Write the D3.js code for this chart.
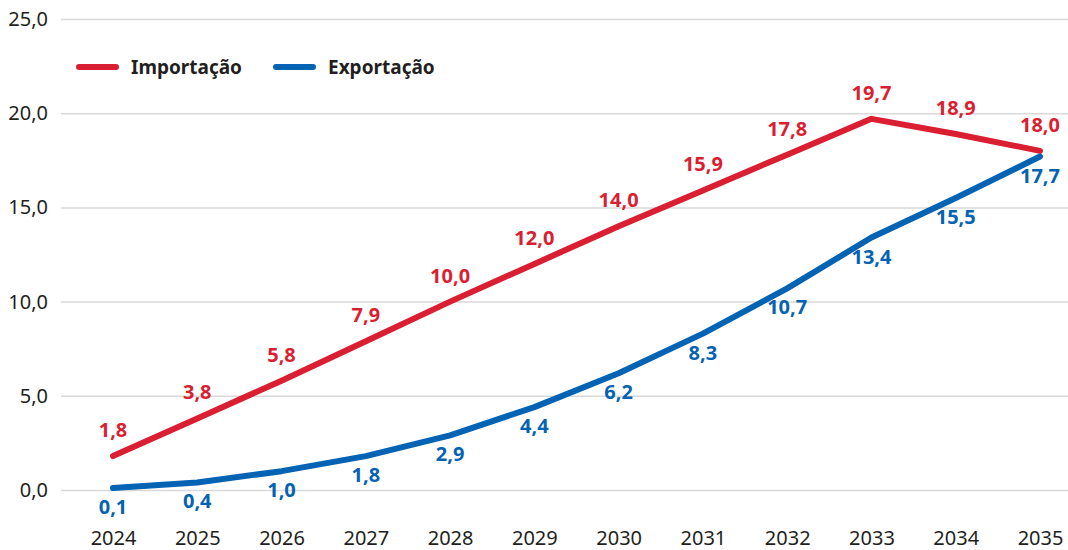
<!DOCTYPE html>
<html lang="pt">
  <head>
    <meta charset="UTF-8" />
    <title>Importação e Exportação</title>
    <script src="https://cdn.jsdelivr.net/npm/d3@7/dist/d3.min.js"></script>
    <style>
      body { margin: 0; background: #fff; }
      text { font-family: 'Noto Sans', sans-serif; }
    </style>
  </head>
  <body>
    <div id='app'></div>

    <script>
  // data
  const years = ['2024', '2025', '2026', '2027', '2028', '2029', '2030', '2031', '2032', '2033', '2034', '2035']
  const importacao = [1.8, 3.8, 5.8, 7.9, 10.0, 12.0, 14.0, 15.9, 17.8, 19.7, 18.9, 18.0]
  const exportacao = [0.1, 0.4, 1.0, 1.8, 2.9, 4.4, 6.2, 8.3, 10.7, 13.4, 15.5, 17.7]
  const yTicks = [0, 5, 10, 15, 20, 25]

  const width = 1068
  const height = 550
  const red = '#da1f33'
  const blue = '#0563b3'

  const fmt = v => d3.format('.1f')(v).replace('.', ',')

  const svg = d3.select('#app').append('svg')
    .attr('width', width)
    .attr('height', height)

  const x = d3.scalePoint().domain(years).range([113, 1040])
  const y = d3.scaleLinear().domain([0, 25]).range([490, 19])

  // gridlines + y labels
  const yAxis = svg.append('g')
    .attr('transform', 'translate(61,0)')
    .call(d3.axisLeft(y).tickValues(yTicks).tickSize(-(width - 61)).tickPadding(13).tickFormat(fmt))
  yAxis.select('.domain').remove()
  yAxis.selectAll('line').attr('stroke', '#d9d9d9').attr('stroke-width', 1.5)
  yAxis.selectAll('text')
    .attr('fill', '#231f20')
    .style('font-size', '20px')

  // x labels
  const xAxis = svg.append('g')
    .attr('transform', 'translate(0,527)')
    .call(d3.axisBottom(x).tickSize(0).tickPadding(0))
  xAxis.select('.domain').remove()
  xAxis.selectAll('text')
    .attr('fill', '#231f20')
    .attr('dy', '0.9em')
    .style('font-size', '20px')

  const line = d3.line()
    .x((d, i) => x(years[i]))
    .y(d => y(d))

  const series = [
    { name: 'Importação', values: importacao, color: red, dy: -19 },
    { name: 'Exportação', values: exportacao, color: blue, dy: 26 }
  ]

  series.forEach(s => {
    svg.append('path')
      .datum(s.values)
      .attr('fill', 'none')
      .attr('stroke', s.color)
      .attr('stroke-width', 6)
      .attr('stroke-linecap', 'round')
      .attr('stroke-linejoin', 'round')
      .attr('d', line)

    svg.append('g').selectAll('text')
      .data(s.values)
      .join('text')
      .attr('x', (d, i) => x(years[i]))
      .attr('y', d => y(d) + s.dy)
      .attr('text-anchor', 'middle')
      .attr('fill', s.color)
      .style('font-size', '20px')
      .style('font-weight', 700)
      .text(fmt)
  })

  // legend
  const legend = svg.append('g')
  const legendX = [79, 276]
  series.forEach((s, i) => {
    legend.append('line')
      .attr('x1', legendX[i]).attr('x2', legendX[i] + 37)
      .attr('y1', 67).attr('y2', 67)
      .attr('stroke', s.color)
      .attr('stroke-width', 6)
      .attr('stroke-linecap', 'round')
    legend.append('text')
      .attr('x', legendX[i] + 52)
      .attr('y', 74)
      .attr('fill', '#231f20')
      .style('font-size', '19px')
      .style('font-weight', 700)
      .text(s.name)
  })
    </script>
  </body>
</html>
